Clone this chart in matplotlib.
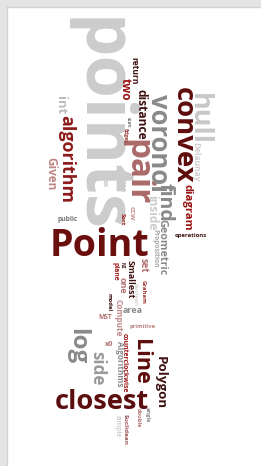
"""
Word cloud of computational-geometry terms, rebuilt with matplotlib text.
"""
import matplotlib
matplotlib.use("Agg")
import matplotlib.pyplot as plt
from matplotlib.font_manager import FontProperties
from matplotlib.patches import Rectangle
from matplotlib.textpath import TextPath

W, H = 261, 466
FONT = FontProperties(family="Open Sans", weight="bold")

# ---------------------------------------------------------------------------
# Data: the words of the cloud
# ---------------------------------------------------------------------------
WORDS = [
    "points", "Point", "closest", "convex", "pair", "voronoi", "hull",
    "algorithm", "log", "Line", "Polygon", "distance", "find", "Geometric",
    "side", "diagram", "Smallest", "one", "Compute", "area", "Algorithms",
    "counterclockwise", "Given", "two", "return", "inside", "Delaunay",
    "Euclidean", "Proposition", "Graham", "primitive", "CCW", "set",
    "model", "plane", "MST", "x0", "operations", "public", "boolean",
    "double", "simple", "angle", "Edges", "scan", "Sort", "time", "N2",
    "int", "ax",
]

# ---------------------------------------------------------------------------
# Layout: ink box (x0, x1, y0, y1) in pixels, rotation, colour
# ---------------------------------------------------------------------------
DARK = "#5e0c0c"
RED = "#8e1a1a"
BROWN = "#3f1212"
ROSE = "#b27272"
GREY = "#8a8a8a"
LIGHT = "#cccccc"

LAYOUT = {
    "points":      ((63, 134, 22, 230), -90, LIGHT),
    "hull":        ((190, 215, 95, 143), -90, "#c8c8c8"),
    "convex":      ((170, 197, 88, 183), -90, DARK),
    "voronoi":     ((150, 171, 94, 190), -90, GREY),
    "return":      ((131, 138, 58, 84), -90, BROWN),
    "two":         ((122, 130, 78, 100), -90, "#9a1414"),
    "distance":    ((137, 148, 90, 140), -90, BROWN),
    "pair":        ((124, 150, 142, 205), -90, "#ab6a6a"),
    "algorithm":   ((58, 73, 116, 202), -90, RED),
    "int":         ((58, 65, 97, 114), -90, "#bdbdbd"),
    "Given":       ((47, 57, 158, 190), -90, "#c08484"),
    "scan":        ((125, 131, 117, 127), -90, "#777777"),
    "Edges":       ((122, 128, 128, 142), -90, "#9c3a3a"),
    "Delaunay":    ((192, 198, 143, 182), -90, "#d0d0d0"),
    "find":        ((160, 175, 183, 220), -90, GREY),
    "Geometric":   ((158, 168, 220, 275), -90, GREY),
    "diagram":     ((182, 192, 185, 230), -90, "#9a1212"),
    "inside":      ((148, 157, 196, 230), -90, LIGHT),
    "time":        ((120, 125, 175, 192), -90, LIGHT),
    "ax":          ((102, 107, 179, 187), -90, LIGHT),
    "CCW":         ((127, 137, 206, 220), -90, "#c08484"),
    "Sort":        ((120, 125, 213, 225), -90, "#9a1a1a"),
    "public":      ((58, 78, 215, 223), 0, "#777777"),
    "Point":       ((53, 148, 226, 257), 0, "#6a0e0e"),
    "operations":  ((175, 207, 232, 238), 0, BROWN),
    "Proposition": ((152, 158, 230, 268), -90, "#a8a8a8"),
    "set":         ((140, 147, 258, 272), -90, ROSE),
    "Graham":      ((140, 147, 280, 303), -90, "#a03434"),
    "boolean":     ((133, 138, 283, 305), -90, "#d4d4d4"),
    "Smallest":    ((127, 135, 260, 298), -90, BROWN),
    "N2":          ((120, 125, 262, 268), -90, BROWN),
    "plane":       ((112, 118, 263, 281), -90, "#a01c1c"),
    "one":         ((118, 127, 277, 293), -90, ROSE),
    "model":       ((107, 113, 293, 310), -90, BROWN),
    "Compute":     ((114, 122, 299, 336), -90, "#c08888"),
    "area":        ((123, 142, 307, 315), 0, GREY),
    "MST":         ((99, 112, 313, 320), 0, ROSE),
    "primitive":   ((130, 155, 323, 330), 0, "#b88080"),
    "x0":          ((105, 113, 340, 347), 0, ROSE),
    "counterclockwise": ((122, 128, 333, 393), -90, "#a01818"),
    "Algorithms":  ((115, 123, 341, 386), -90, GREY),
    "log":         ((65, 90, 330, 364), -90, GREY),
    "side":        ((93, 105, 352, 385), -90, "#999999"),
    "Line":        ((135, 152, 341, 384), -90, DARK),
    "Polygon":     ((154, 166, 357, 408), -90, BROWN),
    "closest":     ((56, 148, 385, 413), 0, "#5c0e0e"),
    "angle":       ((145, 150, 407, 422), -90, GREY),
    "double":      ((135, 142, 408, 427), -90, ROSE),
    "Euclidean":   ((122, 130, 415, 445), -90, "#9e5858"),
    "simple":      ((115, 120, 415, 437), -90, "#d0d0d0"),
}


def ink_extent(word):
    """Ink bounds of a word at 1 pt, relative to its baseline origin."""
    ext = TextPath((0, 0), word, size=1, prop=FONT).get_extents()
    return ext.x0, ext.x1, ext.y0, ext.y1


def place_word(ax, word, box, rot, color):
    x0, x1, y0, y1 = box
    ix0, ix1, iy0, iy1 = ink_extent(word)
    if rot == 0:
        s = (x1 - x0) / (ix1 - ix0)          # px per pt-unit
        ax_ = x0 - ix0 * s
        ay_ = (y0 + y1) / 2 + s * (iy0 + iy1) / 2
    else:
        s = (y1 - y0) / (ix1 - ix0)
        ay_ = y0 - ix0 * s
        ax_ = (x0 + x1) / 2 - s * (iy0 + iy1) / 2
    size = s * 72 / 100
    ax.text(ax_, ay_, word, fontproperties=FONT, fontsize=size, color=color,
            rotation=rot, rotation_mode="anchor", ha="left", va="baseline")


fig = plt.figure(figsize=(W / 100, H / 100), dpi=100)
fig.patch.set_facecolor("white")
ax = fig.add_axes([0, 0, 1, 1])
ax.set_xlim(0, W)
ax.set_ylim(H, 0)
ax.axis("off")

# page frame (grey top and left border)
ax.add_patch(Rectangle((0, 0), W, 7, facecolor="#e4e4e4", edgecolor="none"))
ax.add_patch(Rectangle((0, 0), 7, H, facecolor="#e4e4e4", edgecolor="none"))
ax.plot([7, W], [7, 7], color="#d2d2d2", linewidth=1)
ax.plot([7, 7], [7, H], color="#d2d2d2", linewidth=1)

for w in WORDS:
    box, rot, color = LAYOUT[w]
    place_word(ax, w, box, rot, color)

fig.savefig("out.png", dpi=100)
